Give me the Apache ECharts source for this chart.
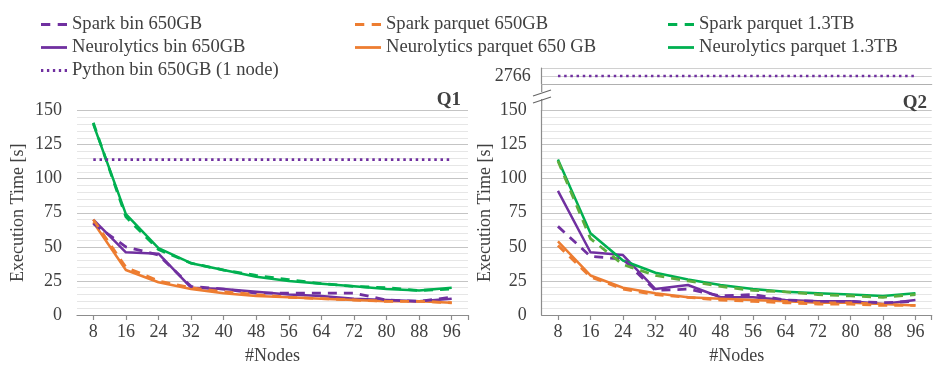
<!DOCTYPE html>
<html><head><meta charset="utf-8">
<script src="https://cdn.jsdelivr.net/npm/echarts@6/dist/echarts.min.js"></script>
<style>html,body{margin:0;padding:0;background:#fff}#c{width:935px;height:370px}</style>
</head><body><div id="c"></div>
<script>
// ---- data ----
const nodes = [8,16,24,32,40,48,56,64,72,80,88,96];
const nodeTicks = [8,16,24,32,40,48,56,64,72,80,88,96];
const yTicks = [0,25,50,75,100,125,150];

const q1SparkBin      = [67,50,44,21,19,16,16,16,16,11,10,13];
const q1NeuroBin      = [70,46,45,20,19,17,15,14,12,11,10,12];
const q1SparkPar      = [70,35,25,20,17,15,13,12,11,10,10,9];
const q1NeuroPar      = [68,33,24,19,16,14,13,12,11,10,10,9];
const q1SparkPar13    = [141,72,48,38,33,29,26,23,21,20,18,19];
const q1NeuroPar13    = [140,74,49,38,33,28,25,23,21,19,18,20];
const q1Python        = 114;

const q2SparkBin      = [65,43,41,18,19,14,15,11,10,10,9,10];
const q2NeuroBin      = [91,46,44,19,22,13,13,11,10,10,8,11];
const q2SparkPar      = [51,28,19,15,13,11,10,9,8,8,7,7];
const q2NeuroPar      = [54,29,20,16,13,12,11,10,9,9,8,7];
const q2SparkPar13    = [113,56,37,29,25,21,18,17,15,14,13,15];
const q2NeuroPar13    = [114,60,40,31,26,22,19,17,16,15,14,16];
const q2Python        = 2766;
const q2UpperTicks    = [2766];

const names = {
  sb:'Spark bin 650GB', nb:'Neurolytics bin 650GB', py:'Python bin 650GB (1 node)',
  sp:'Spark parquet 650GB', np:'Neurolytics parquet 650 GB',
  sp13:'Spark parquet 1.3TB', np13:'Neurolytics parquet 1.3TB'
};

// ---- styles ----
const FONT = "'Liberation Serif', 'DejaVu Serif', serif";
const TXT = '#404040';
const PURPLE = '#7030A0', ORANGE = '#ED7D31', GREEN = '#00B050', GREEN2 = '#5DAE3E';
const DASH = [9,7], DOT = [2.5,3.7];
const AXC = '#8c8c8c';

const ICON_SOLID = 'path://M0,0h28v3h-28z';
const ICON_DASH  = 'path://M0,0h10v3h-10z M18,0h10v3h-10z';
const ICON_DOT   = 'path://M0,0h2.5v3h-2.5z M6.4,0h2.5v3h-2.5z M12.8,0h2.5v3h-2.5z M19.2,0h2.5v3h-2.5z M25.5,0h2.5v3h-2.5z';

function pairs(arr){ return nodes.map((n,i)=>[n,arr[i]]); }
function line(name, arr, color, type, xi, yi){
  const solid = (type==='solid');
  return {name, type:'line', xAxisIndex:xi, yAxisIndex:yi, data:pairs(arr), symbol:'none',
    lineStyle:{color, width: solid?2.5:2.8, type, cap:'butt', join:'round'}, itemStyle:{color}, z: solid?2:3};
}
function hline(name, v, color, xi, yi){
  return {name, type:'line', xAxisIndex:xi, yAxisIndex:yi, data:[[nodes[0],v],[nodes[nodes.length-1],v]], symbol:'none',
    lineStyle:{color, width:2.6, type:DOT, cap:'butt'}, itemStyle:{color}, z:3};
}

function xAx(gi){
  return {type:'value', gridIndex:gi, min:4, max:100,
    axisLine:{show:true, lineStyle:{color:AXC, width:1.2}},
    axisTick:{show:true, customValues:nodeTicks.concat([100]), length:5, lineStyle:{color:AXC, width:1.2}},
    axisLabel:{show:true, customValues:nodeTicks, fontFamily:FONT, fontSize:18, color:TXT, margin:8},
    splitLine:{show:false},
    name:'#Nodes', nameLocation:'middle', nameGap:32,
    nameTextStyle:{fontFamily:FONT, fontSize:18, color:TXT}};
}
function yAx(gi, showLine, gap){
  return {type:'value', gridIndex:gi, min:0, max:150, interval:25,
    axisLine:{show:showLine, lineStyle:{color:AXC, width:1.2}},
    axisTick:{show:false},
    axisLabel:{fontFamily:FONT, fontSize:18, color:TXT, margin:15, customValues:yTicks},
    splitLine:{show:true, lineStyle:{color:'#c4c4c4', width:1.2}},
    minorTick:{show:false, splitNumber:5},
    minorSplitLine:{show:true, lineStyle:{color:'#e6e6e6', width:1.2}},
    name:'Execution Time [s]', nameLocation:'middle', nameGap:gap, nameRotate:90,
    nameTextStyle:{fontFamily:FONT, fontSize:18, color:TXT}};
}

const legendBase = {orient:'vertical', top:10, padding:[5,5,5,0], itemHeight:3, itemGap:4, itemWidth:26,
  textStyle:{fontFamily:FONT, fontSize:18.6, color:TXT, lineHeight:18}, selectedMode:false};

const option = {
  animation:false,
  backgroundColor:'#fff',
  title:[
    {text:'Q1', right:469, top:86, textStyle:{fontFamily:FONT, fontSize:19, fontWeight:'bold', color:TXT}},
    {text:'Q2', right:3, top:89, textStyle:{fontFamily:FONT, fontSize:19, fontWeight:'bold', color:TXT}}
  ],
  legend:[
    Object.assign({}, legendBase, {left:41, data:[
      {name:names.sb, icon:ICON_DASH}, {name:names.nb, icon:ICON_SOLID}, {name:names.py, icon:ICON_DOT}]}),
    Object.assign({}, legendBase, {left:355, data:[
      {name:names.sp, icon:ICON_DASH}, {name:names.np, icon:ICON_SOLID}]}),
    Object.assign({}, legendBase, {left:668, data:[
      {name:names.sp13, icon:ICON_DASH}, {name:names.np13, icon:ICON_SOLID}]})
  ],
  grid:[
    {left:77, top:110.5, width:391, height:205},
    {left:541.7, top:110.5, width:390, height:205},
    {left:541.7, top:68, width:390, height:16}
  ],
  xAxis:[ xAx(0), xAx(1),
    {type:'value', gridIndex:2, min:4, max:100, axisLine:{show:true, lineStyle:{color:'#b0b0b0', width:1.2}},
     axisTick:{show:false}, axisLabel:{show:false}, splitLine:{show:false}} ],
  yAxis:[ yAx(0,false,50), yAx(1,true,47),
    {type:'value', gridIndex:2, min:2757, max:2775, interval:9,
     axisLine:{show:true, lineStyle:{color:AXC, width:1.2}}, axisTick:{show:false},
     axisLabel:{fontFamily:FONT, fontSize:18, color:TXT, margin:11, customValues:q2UpperTicks, formatter:v=>String(v)},
     splitLine:{show:true, lineStyle:{color:'#d0d0d0', width:1.2}}} ],
  series:[
    // Q1
    line(names.nb, q1NeuroBin, PURPLE, 'solid', 0, 0),
    line(names.np, q1NeuroPar, ORANGE, 'solid', 0, 0),
    line(names.np13, q1NeuroPar13, GREEN, 'solid', 0, 0),
    line(names.sb, q1SparkBin, PURPLE, DASH, 0, 0),
    line(names.sp, q1SparkPar, ORANGE, DASH, 0, 0),
    line(names.sp13, q1SparkPar13, GREEN, DASH, 0, 0),
    hline(names.py, q1Python, PURPLE, 0, 0),
    // Q2
    line(names.nb, q2NeuroBin, PURPLE, 'solid', 1, 1),
    line(names.np, q2NeuroPar, ORANGE, 'solid', 1, 1),
    line(names.np13, q2NeuroPar13, GREEN, 'solid', 1, 1),
    line(names.sb, q2SparkBin, PURPLE, DASH, 1, 1),
    line(names.sp, q2SparkPar, ORANGE, DASH, 1, 1),
    line(names.sp13, q2SparkPar13, GREEN2, DASH, 1, 1),
    hline(names.py, q2Python, PURPLE, 2, 2)
  ],
  graphic:[
    {type:'line', shape:{x1:541.7, y1:84, x2:541.7, y2:92}, style:{stroke:AXC, lineWidth:1.2}, silent:true},
    {type:'line', shape:{x1:541.7, y1:99, x2:541.7, y2:111}, style:{stroke:AXC, lineWidth:1.2}, silent:true},
    {type:'line', shape:{x1:533, y1:96, x2:551, y2:90}, style:{stroke:'#666', lineWidth:1.2}, silent:true},
    {type:'line', shape:{x1:533, y1:103, x2:551, y2:97}, style:{stroke:'#666', lineWidth:1.2}, silent:true}
  ]
};
const chart = echarts.init(document.getElementById('c'), null, {renderer:'canvas'});
chart.setOption(option);
</script></body></html>
